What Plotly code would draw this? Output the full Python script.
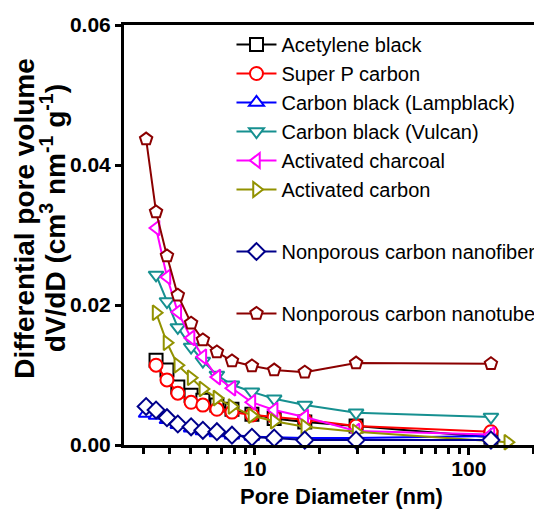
import plotly.graph_objects as go

# Pore diameters (nm)
D13 = [3.10, 3.45, 3.88, 4.36, 5.03, 5.71, 6.64, 7.81, 9.68, 12.3, 17.1, 29.7, 126.8]
D12 = D13[1:]
D_actc = D13[1:12] + [152.0]

acetylene_black = [0.0121, 0.0107, 0.0083, 0.0071, 0.0064, 0.0057, 0.0051, 0.0044, 0.0038, 0.0033, 0.0027, 0.0011]
super_p = [0.0114, 0.0093, 0.0074, 0.0061, 0.0057, 0.0051, 0.0047, 0.0043, 0.0040, 0.0036, 0.0027, 0.0019]
lampblack = [0.0045, 0.0042, 0.0036, 0.0029, 0.0024, 0.0020, 0.0017, 0.0014, 0.0012, 0.0011, 0.0010, 0.0010, 0.0013]
vulcan = [0.0243, 0.0205, 0.0168, 0.0140, 0.0120, 0.0100, 0.0086, 0.0076, 0.0066, 0.0057, 0.0046, 0.0040]
act_charcoal = [0.0310, 0.0240, 0.0190, 0.0153, 0.0126, 0.0097, 0.0081, 0.0061, 0.0050, 0.0040, 0.0020, 0.0015]
act_carbon = [0.0189, 0.0146, 0.0114, 0.0096, 0.0080, 0.0067, 0.0055, 0.0042, 0.0034, 0.0026, 0.0019, 0.0004]
nanofiber = [0.0055, 0.0050, 0.0039, 0.0030, 0.0026, 0.0021, 0.0019, 0.0014, 0.0011, 0.0010, 0.0007, 0.0007, 0.0007]
nanotube = [0.0437, 0.0333, 0.0270, 0.0214, 0.0174, 0.0150, 0.0133, 0.0120, 0.0113, 0.0107, 0.0104, 0.0117, 0.0116]

series = [
    ("Acetylene black", D12, acetylene_black, "#000000", "square", 1),
    ("Super P carbon", D12, super_p, "#FF0000", "circle", 1),
    ("Carbon black (Lampblack)", D13, lampblack, "#0000FF", "triangle-up", 1),
    ("Carbon black (Vulcan)", D12, vulcan, "#169090", "triangle-down", 1),
    ("Activated charcoal", D12, act_charcoal, "#FF00FF", "triangle-left", 1),
    ("Activated carbon", D_actc, act_carbon, "#929200", "triangle-right", 1),
    ("Nonporous carbon nanofiber", D13, nanofiber, "#00008B", "diamond", 2),
    ("Nonporous carbon nanotube", D13, nanotube, "#8B0000", "pentagon", 3),
]

x_title = "Pore Diameter (nm)"
y_title_1 = "Differential pore volume"
y_title_2 = "dV/dD (cm<sup>3</sup> nm<sup>-1</sup> g<sup>-1</sup>)"

fig = go.Figure()
for name, x, y, c, sym, grp in series:
    fig.add_trace(go.Scatter(
        x=x, y=y, name=name, mode="lines+markers", legendgroup=str(grp),
        line=dict(color=c, width=2),
        marker=dict(symbol=sym, size=13, color="white", line=dict(color=c, width=2)),
        cliponaxis=False,
    ))

fam = "Liberation Sans, Arial"
fig.update_layout(
    width=542, height=509,
    margin=dict(l=116, r=12, t=17, b=72, autoexpand=False),
    paper_bgcolor="white", plot_bgcolor="white",
    showlegend=True,
    legend=dict(x=1.006, y=1.0, xanchor="right", yanchor="top",
                bgcolor="rgba(0,0,0,0)", traceorder="grouped", tracegroupgap=33,
                font=dict(family=fam, size=20, color="black"),
                itemwidth=40),
    xaxis=dict(type="log", range=[0.388, 2.323], automargin=False,
               tickvals=[10, 100], ticktext=["10", "100"],
               ticks="outside", ticklen=7, tickwidth=3, tickcolor="black",
               ticklabelstandoff=-4,
               minor=dict(tickvals=[3, 4, 5, 6, 7, 8, 9, 20, 30, 40, 50, 60, 70, 80, 90, 200],
                          ticks="outside", ticklen=6, tickwidth=2.5, tickcolor="black"),
               showline=True, linewidth=3, linecolor="black", mirror=True,
               showgrid=False, zeroline=False,
               tickfont=dict(family=fam, size=21, color="black", weight="bold")),
    yaxis=dict(range=[0, 0.06], tickvals=[0, 0.02, 0.04, 0.06], automargin=False,
               ticktext=["0.00", "0.02", "0.04", "0.06"],
               ticks="outside", ticklen=6, tickwidth=3, tickcolor="black",
               showline=True, linewidth=3, linecolor="black",
               showgrid=False, zeroline=False,
               tickfont=dict(family=fam, size=21, color="black", weight="bold")),
    shapes=[dict(type="line", xref="paper", yref="paper", x0=1, x1=1, y0=0, y1=1,
                 line=dict(color="#555555", width=1))],
    annotations=[
        dict(text="<b>" + x_title + "</b>", xref="paper", yref="paper", x=0.5, y=0,
             xanchor="center", yanchor="top", xshift=10, yshift=-37, showarrow=False,
             font=dict(family=fam, size=22, color="black")),
        dict(text="<b>" + y_title_1 + "</b>", xref="paper", yref="paper", x=0, y=0.54,
             xanchor="right", yanchor="middle", xshift=-82, textangle=-90, showarrow=False,
             font=dict(family=fam, size=28, color="black")),
        dict(text="<b>" + y_title_2 + "</b>", xref="paper", yref="paper", x=0, y=0.54,
             xanchor="right", yanchor="middle", xshift=-51, textangle=-90, showarrow=False,
             font=dict(family=fam, size=28, color="black")),
    ],
)

fig.write_html("out.html")
